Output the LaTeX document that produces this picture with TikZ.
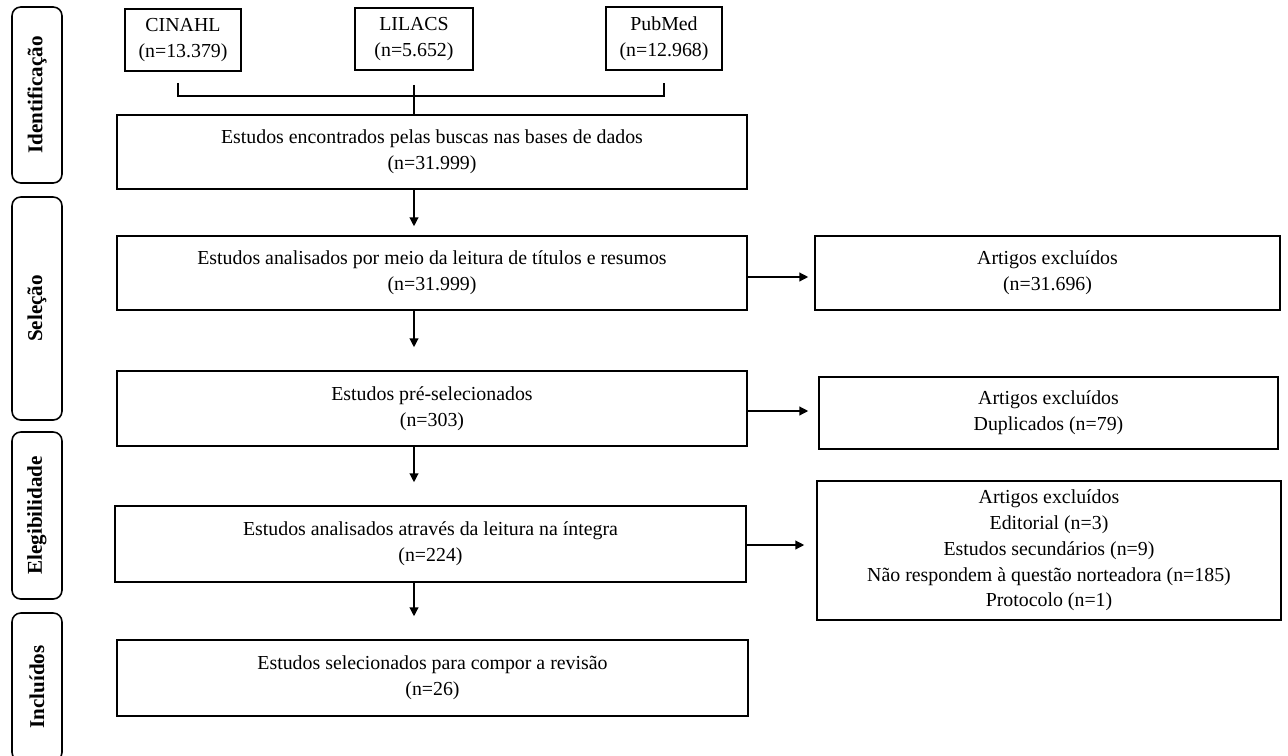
\documentclass[tikz,border=0pt]{standalone}
\usepackage{fontspec}
\setmainfont{Liberation Serif}
\usetikzlibrary{arrows.meta,positioning}
\tikzset{
  boxbase/.style={draw=black, line width=0.9pt, align=center, inner sep=2pt,
    font=\fontsize{11.3}{14.7}\selectfont},
  phase/.style={draw=black, line width=0.9pt, rounded corners=5pt, rotate=90,
    minimum height=1.0cm, font=\fontsize{12}{13}\selectfont\bfseries},
  flow/.style={line width=0.7pt, -{Triangle[length=5pt,width=5pt]}}
}

\begin{document}
\begin{tikzpicture}
\useasboundingbox (0,0) rectangle (25.76,-15.10);
% fases
\node[phase, minimum width=3.52cm] (idn) at (0.74,-1.90) {Identificação};
\node[phase, minimum width=4.46cm] (slc) at (0.74,-6.17) {Seleção};
\node[phase, minimum width=3.34cm] (elg) at (0.74,-10.31) {Elegibilidade};
\node[phase, minimum width=2.96cm] (inc) at (0.74,-13.74) {Incluídos};
% bases de dados
\node[boxbase, minimum width=2.32cm, minimum height=1.24cm] (cinahl) at (3.66,-0.80) {CINAHL\\(n=13.379)};
\node[boxbase, minimum width=2.36cm, minimum height=1.24cm] (lilacs) at (8.28,-0.78) {LILACS\\(n=5.652)};
\node[boxbase, minimum width=2.32cm, minimum height=1.26cm] (pubmed) at (13.28,-0.77) {PubMed\\(n=12.968)};
% coluna principal
\node[boxbase, minimum width=12.6cm, minimum height=1.48cm] (enc) at (8.64,-3.04) {Estudos encontrados pelas buscas nas bases de dados\\(n=31.999)};
\node[boxbase, minimum width=12.6cm, minimum height=1.48cm] (ana) at (8.64,-5.46) {Estudos analisados por meio da leitura de títulos e resumos\\(n=31.999)};
\node[boxbase, minimum width=12.6cm, minimum height=1.50cm] (pre) at (8.64,-8.17) {Estudos pré-selecionados\\(n=303)};
\node[boxbase, minimum width=12.62cm, minimum height=1.52cm] (int) at (8.61,-10.88) {Estudos analisados através da leitura na íntegra\\(n=224)};
\node[boxbase, minimum width=12.62cm, minimum height=1.52cm] (fin) at (8.65,-13.56) {Estudos selecionados para compor a revisão\\(n=26)};
% excluidos
\node[boxbase, minimum width=9.30cm, minimum height=1.48cm] (exc1) at (20.95,-5.46) {Artigos excluídos\\(n=31.696)};
\node[boxbase, minimum width=9.18cm, minimum height=1.44cm] (exc2) at (20.97,-8.26) {Artigos excluídos\\Duplicados (n=79)};
\node[boxbase, minimum width=9.28cm, minimum height=2.78cm] (exc3) at (20.98,-11.01) {Artigos excluídos\\Editorial (n=3)\\Estudos secundários (n=9)\\Não respondem à questão norteadora (n=185)\\Protocolo (n=1)};
% chave das bases
\coordinate (tick) at (0,-1.66);
\coordinate (bar) at (0,-1.92);
\coordinate (stem) at (0,-1.70);
\draw[line width=0.7pt] ([xshift=-0.1cm]cinahl.south |- tick) -- ([xshift=-0.1cm]cinahl.south |- bar)
  -- (pubmed.south |- bar) -- (pubmed.south |- tick);
\draw[line width=0.7pt] (lilacs.south |- stem) -- (enc.north -| lilacs.south);
% setas
\draw[flow, shorten >=0.18cm] (enc.south -| lilacs.south) -- (ana.north -| lilacs.south);
\draw[flow, shorten >=0.46cm] (ana.south -| lilacs.south) -- (pre.north -| lilacs.south);
\draw[flow, shorten >=0.46cm] (pre.south -| lilacs.south) -- (int.north -| lilacs.south);
\draw[flow, shorten >=0.46cm] (int.south -| lilacs.south) -- (fin.north -| lilacs.south);
\draw[flow, shorten >=0.12cm] ([yshift=-0.08cm]ana.east) -- ([yshift=-0.08cm]ana.east -| exc1.west);
\draw[flow, shorten >=0.2cm] ([yshift=-0.05cm]pre.east) -- ([yshift=-0.05cm]pre.east -| exc2.west);
\draw[flow, shorten >=0.24cm] ([yshift=-0.02cm]int.east) -- ([yshift=-0.02cm]int.east -| exc3.west);
\end{tikzpicture}
\end{document}
